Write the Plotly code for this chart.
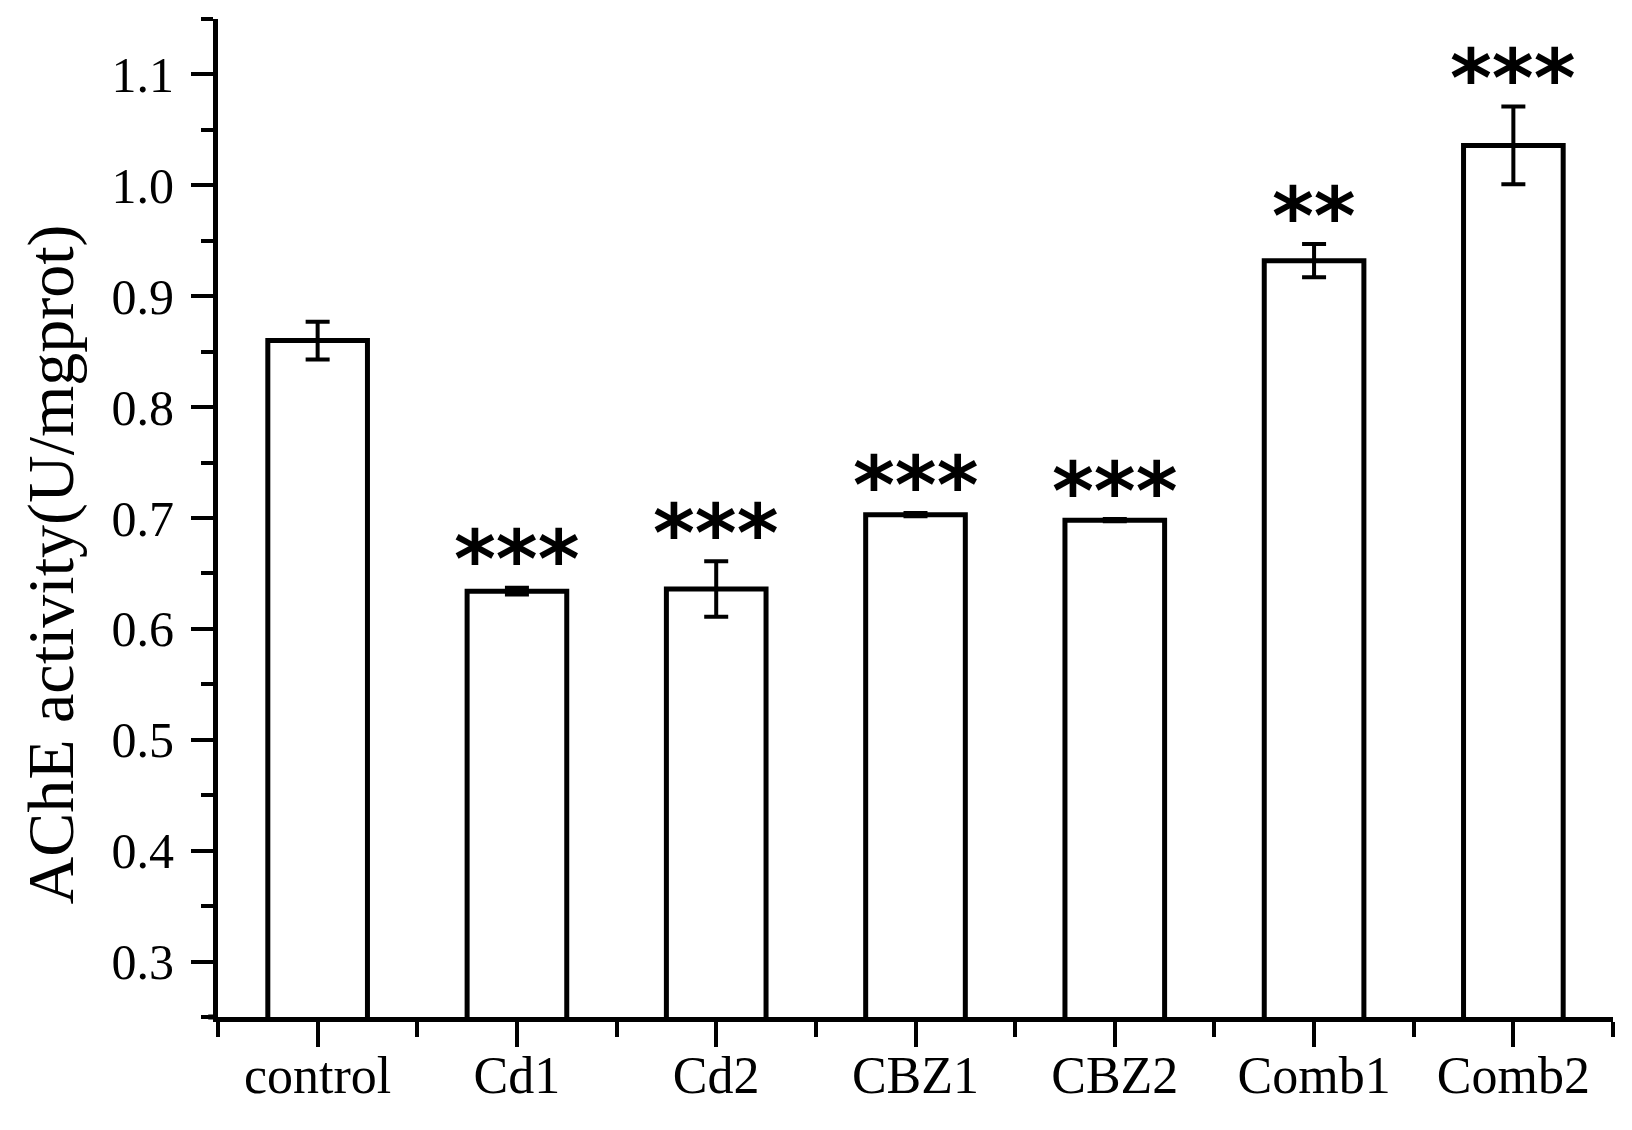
import plotly.graph_objects as go

categories = ["control", "Cd1", "Cd2", "CBZ1", "CBZ2", "Comb1", "Comb2"]
means = [0.860, 0.634, 0.636, 0.703, 0.698, 0.932, 1.036]
errors = [0.017, 0.003, 0.025, 0.0015, 0.001, 0.015, 0.035]
stars = ["", "***", "***", "***", "***", "**", "***"]
y_ticks = [0.3, 0.4, 0.5, 0.6, 0.7, 0.8, 0.9, 1.0, 1.1]

xpos = list(range(len(categories)))

fig = go.Figure()
fig.add_trace(go.Bar(
    x=xpos, y=means, width=0.5,
    marker=dict(color="white", line=dict(color="black", width=5)),
    error_y=dict(type="data", array=errors, visible=True,
                 color="black", thickness=4, width=12),
    showlegend=False,
))

for xi, m, e, s in zip(xpos, means, errors, stars):
    if s:
        fig.add_annotation(x=xi, y=m + e, text="<b>" + s + "</b>", showarrow=False,
                           xref="x", yref="y", yanchor="middle", yshift=28,
                           font=dict(family="DejaVu Sans", size=80, color="black"))

fig.add_annotation(text="AChE activity(U/mgprot)", xref="paper", yref="paper",
                   x=-0.1194, y=0.4539, xanchor="center", yanchor="middle",
                   textangle=-90, showarrow=False,
                   font=dict(family="Liberation Serif", size=66, color="black"))

# small extension of the x axis line to the left of the y axis
fig.add_shape(type="line", xref="paper", yref="paper", x0=-0.007, x1=0, y0=0, y1=0,
              line=dict(color="black", width=5))

fig.update_layout(
    width=1616, height=1114,
    margin=dict(l=210, r=11, t=11, b=105),
    paper_bgcolor="white", plot_bgcolor="white",
    bargap=0.5,
    xaxis=dict(
        range=[-0.5, 6.5], tickmode="array", tickvals=xpos, ticktext=categories,
        showline=True, linecolor="black", linewidth=5, mirror=False,
        ticks="outside", ticklen=25, tickwidth=4, tickcolor="black",
        showgrid=False, zeroline=False,
        tickfont=dict(family="Liberation Serif", size=52, color="black"),
        ticklabelstandoff=-16,
        minor=dict(tickmode="linear", tick0=-0.5, dtick=1, ticks="outside",
                   ticklen=15, tickwidth=4, tickcolor="black", showgrid=False),
    ),
    yaxis=dict(
        range=[0.25, 1.15], tickmode="array", tickvals=y_ticks,
        ticktext=[f"{v:.1f}" for v in y_ticks],
        showline=True, linecolor="black", linewidth=5,
        ticks="outside", ticklen=22, tickwidth=4, tickcolor="black",
        showgrid=False, zeroline=False,
        tickfont=dict(family="Liberation Serif", size=50, color="black"),
        ticklabelstandoff=7,
        minor=dict(tickmode="linear", tick0=0.25, dtick=0.1, ticks="outside",
                   ticklen=12, tickwidth=4, tickcolor="black", showgrid=False),
    ),
)

fig.write_html("out.html")
